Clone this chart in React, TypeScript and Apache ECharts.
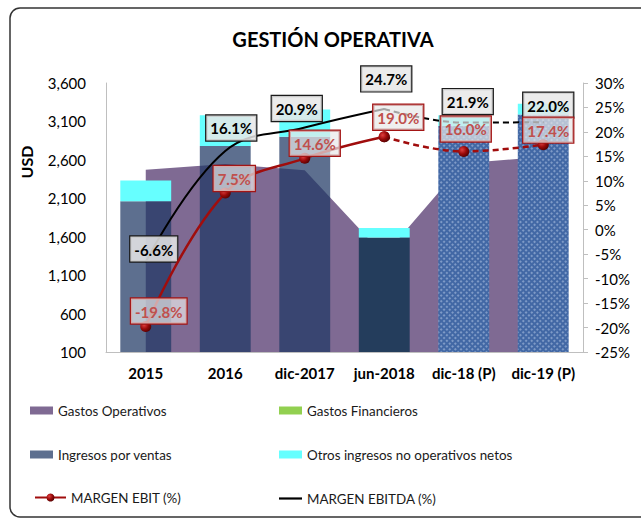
import React, { useEffect, useRef } from "react";
import * as echarts from "echarts";

// ---- data ----
const categories = ["2015", "2016", "dic-2017", "jun-2018", "dic-18 (P)", "dic-19 (P)"];
const gastosOperativos = [2470, 2545, 2465, 1355, 2555, 2640];
const gastosFinancieros = [0, 0, 0, 0, 0, 0];
const ingresosVentas = [2060, 2780, 2900, 1590, 3040, 3190];
const otrosIngresos = [270, 400, 355, 125, 140, 140];
const margenEbit = [-19.8, 7.5, 14.6, 19.0, 16.0, 17.4];
const margenEbitda = [-6.6, 16.1, 20.9, 24.7, 21.9, 22.0];
const usdMin = 100;
const usdMax = 3600;
const usdStep = 500;
const pctMin = -25;
const pctMax = 30;
const pctStep = 5;
const firstProjected = 3; // dashed from this index onward
const projectedBars = [4, 5];

// ---- label layout (style only) ----
const ebitdaOffsets = [[8, 0], [6, -10], [-8, -6], [2, -17], [4, -8], [5, -4]];
const ebitOffsets = [[13, 2.5], [9, 3.5], [10, 3], [14, -1.5], [2, -4.5], [5, 3.5]];

const FONT = "Lato";

function sphere() {
  return new echarts.graphic.RadialGradient(0.35, 0.35, 0.75, [
    { offset: 0, color: "#e04040" },
    { offset: 0.5, color: "#9a0a0a" },
    { offset: 1, color: "#4a0000" },
  ]);
}

export default function App() {
  const ref = useRef<HTMLDivElement>(null);
  useEffect(() => {
    if (!ref.current) return;
    const chart = echarts.init(ref.current, undefined, { renderer: "svg" });

    const fmt = (p: any) => {
      const v = typeof p.value === "number" ? p.value : Number(p.value);
      return v.toFixed(1) + "%";
    };

    const ebitdaLabelBase = {
      show: true,
      position: "top",
      distance: 0,
      formatter: fmt,
      fontFamily: FONT,
      fontSize: 15,
      fontWeight: "bold",
      color: "#000",
      backgroundColor: "rgba(232,232,232,0.85)",
      borderColor: "#1a1a1a",
      borderWidth: 1.2,
      padding: [4, 4, 3, 4],
      lineHeight: 18,
    };
    const ebitLabelBase = {
      show: true,
      position: "top",
      distance: 0,
      formatter: fmt,
      fontFamily: FONT,
      fontSize: 15,
      fontWeight: "bold",
      color: "#c0504d",
      backgroundColor: "rgba(232,232,232,0.7)",
      borderColor: "#a31515",
      borderWidth: 1.2,
      padding: [4, 4, 3, 4],
      lineHeight: 18,
    };

    const lineData = (vals: number[], offsets: number[][], solid: boolean) =>
      vals.map((v, i) => {
        if (solid && i > firstProjected) return "-";
        if (!solid && i < firstProjected) return "-";
        return {
          value: v,
          label: { show: solid ? true : i > firstProjected, offset: offsets[i] },
        };
      });

    const ingresosData = ingresosVentas.map((v, i) => {
      if (projectedBars.includes(i)) {
        return {
          value: v,
          itemStyle: {
            color: "#4268a5",
            decal: {
              symbol: "rect",
              symbolSize: 1,
              dashArrayX: [2, 2],
              dashArrayY: [2, 2],
              rotation: Math.PI / 4,
              color: "rgba(200,215,240,0.45)",
            },
          },
        };
      }
      if (i === 3) return { value: v, itemStyle: { color: "#243d5c" } };
      return v;
    });

    const legendText = { fontFamily: FONT, fontSize: 13.4, color: "#1a1a1a", lineHeight: 17 };

    const option: any = {
      animation: false,
      backgroundColor: "#ffffff",
      title: {
        text: "GESTIÓN OPERATIVA",
        left: 328,
        top: 24,
        textAlign: "center",
        textStyle: { fontFamily: FONT, fontSize: 20, fontWeight: "bold", color: "#000" },
      },
      grid: { left: 106, right: 58, top: 83, bottom: 169, containLabel: false },
      legend: [
        {
          left: 30,
          top: 402,
          padding: 0,
          orient: "vertical",
          itemWidth: 23,
          itemHeight: 8,
          itemGap: 27,
          textStyle: legendText,
          data: [
            { name: "Gastos Operativos", icon: "rect" },
            { name: "Ingresos por ventas", icon: "rect" },
          ],
        },
        {
          left: 34,
          top: 489,
          padding: 0,
          orient: "vertical",
          itemWidth: 31,
          itemHeight: 10,
          textStyle: legendText,
          data: ["MARGEN EBIT (%)"],
        },
        {
          left: 279,
          top: 402,
          padding: 0,
          orient: "vertical",
          itemWidth: 23,
          itemHeight: 8,
          itemGap: 27,
          textStyle: legendText,
          data: [
            { name: "Gastos Financieros", icon: "rect" },
            { name: "Otros ingresos no operativos netos", icon: "rect" },
            { name: "MARGEN EBITDA (%)", icon: "path://M0,0H23V2.2H0Z", itemStyle: { color: "#000" } },
          ],
        },
      ],
      xAxis: {
        type: "category",
        data: categories,
        axisLine: { show: true, onZero: false, lineStyle: { color: "#bfbfbf", width: 1 } },
        axisTick: { show: false },
        axisLabel: { fontFamily: FONT, fontSize: 15, fontWeight: "bold", color: "#000", margin: 13, interval: 0 },
      },
      yAxis: [
        {
          type: "value",
          min: usdMin,
          max: usdMax,
          interval: usdStep,
          axisLine: { show: true, lineStyle: { color: "#bfbfbf" } },
          axisTick: { show: false },
          splitLine: { show: false },
          axisLabel: {
            fontFamily: FONT,
            fontSize: 15,
            color: "#000",
            margin: 20,
            formatter: (v: number) => v.toLocaleString("en-US"),
          },
        },
        {
          type: "value",
          min: pctMin,
          max: pctMax,
          interval: pctStep,
          position: "right",
          axisLine: { show: true, lineStyle: { color: "#bfbfbf" } },
          axisTick: { show: true, length: 5, lineStyle: { color: "#bfbfbf" } },
          splitLine: { show: false },
          axisLabel: { fontFamily: FONT, fontSize: 15, color: "#000", margin: 12, formatter: "{value}%" },
        },
      ],
      series: [
        {
          name: "Gastos Operativos",
          type: "line",
          data: gastosOperativos,
          symbol: "none",
          lineStyle: { width: 0 },
          itemStyle: { color: "#7f6a93" },
          areaStyle: { color: "#7f6a93", opacity: 1, origin: "start" },
          z: 1,
        },
        {
          name: "Ingresos por ventas",
          type: "bar",
          stack: "total",
          barWidth: "64%",
          data: ingresosData,
          itemStyle: { color: "rgba(31,56,100,0.72)" },
          z: 2,
        },
        {
          name: "Gastos Financieros",
          type: "bar",
          stack: "total",
          data: gastosFinancieros,
          itemStyle: { color: "#92d050" },
          z: 2,
        },
        {
          name: "Otros ingresos no operativos netos",
          type: "bar",
          stack: "total",
          data: otrosIngresos,
          itemStyle: { color: "#66ffff" },
          z: 2,
        },
        {
          name: "MARGEN EBITDA (%)",
          type: "line",
          yAxisIndex: 1,
          smooth: 0.4,
          symbol: "circle",
          symbolSize: 1,
          data: lineData(margenEbitda, ebitdaOffsets, true),
          itemStyle: { color: "#000" },
          lineStyle: { color: "#000", width: 2 },
          label: ebitdaLabelBase,
          z: 3,
        },
        {
          name: "MARGEN EBITDA (%)",
          type: "line",
          yAxisIndex: 1,
          smooth: 0.4,
          symbol: "circle",
          symbolSize: 1,
          data: lineData(margenEbitda, ebitdaOffsets, false),
          itemStyle: { color: "#000" },
          lineStyle: { color: "#000", width: 2, type: [6, 4] },
          label: ebitdaLabelBase,
          z: 3,
        },
        {
          name: "MARGEN EBIT (%)",
          type: "line",
          yAxisIndex: 1,
          smooth: 0.4,
          symbol: "circle",
          symbolSize: 11,
          data: lineData(margenEbit, ebitOffsets, true),
          itemStyle: { color: sphere(), borderWidth: 0 },
          lineStyle: { color: "#a00d0d", width: 2.5 },
          label: ebitLabelBase,
          z: 4,
        },
        {
          name: "MARGEN EBIT (%)",
          type: "line",
          yAxisIndex: 1,
          smooth: 0.4,
          symbol: "circle",
          symbolSize: 11,
          data: lineData(margenEbit, ebitOffsets, false),
          itemStyle: { color: sphere(), borderWidth: 0 },
          lineStyle: { color: "#a00d0d", width: 2.5, type: [6, 4] },
          label: ebitLabelBase,
          z: 4,
        },
      ],
      graphic: [
        {
          type: "rect",
          shape: { x: 10, y: 8, width: 640, height: 509, r: 10 },
          style: { fill: "none", stroke: "#333", lineWidth: 1.5 },
          silent: true,
          z: -1,
        },
        {
          type: "text",
          x: 26,
          y: 162,
          rotation: Math.PI / 2,
          style: {
            text: "USD",
            fontFamily: FONT,
            fontSize: 16,
            fontWeight: "bold",
            fill: "#000",
            textAlign: "center",
            textVerticalAlign: "middle",
          },
        },
      ],
    };

    chart.setOption(option);
    return () => chart.dispose();
  }, []);

  return (
    <div
      ref={ref}
      style={{ position: "absolute", left: 0, top: 0, width: 641, height: 521 }}
    />
  );
}
